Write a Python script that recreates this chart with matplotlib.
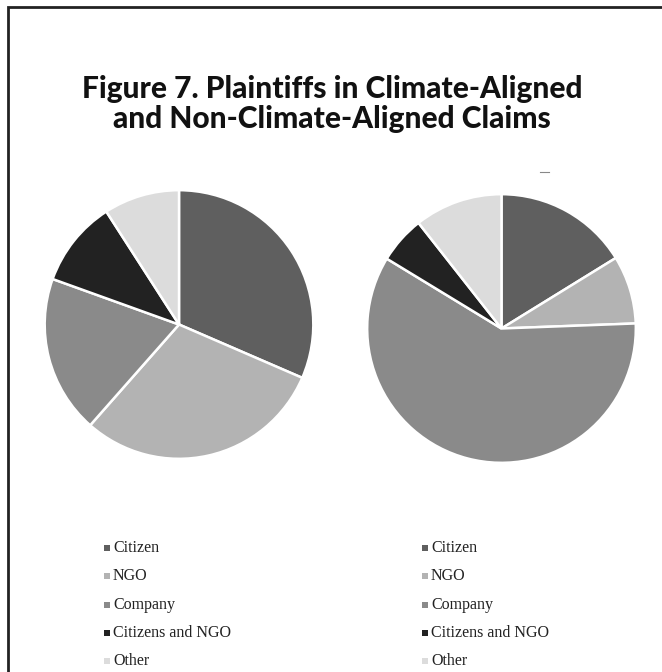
import matplotlib.pyplot as plt
from matplotlib.patches import Rectangle
from matplotlib.lines import Line2D

# plaintiff categories and shares (%)
labels = ['Citizen', 'NGO', 'Company', 'Citizens and NGO', 'Other']
colors = ['#5f5f5f', '#b3b3b3', '#8a8a8a', '#222222', '#dcdcdc']
climate_aligned = [31.5, 30.0, 19.0, 10.4, 9.1]
non_climate_aligned = [16.2, 8.2, 59.3, 5.7, 10.6]

W, H = 662, 672
fig = plt.figure(figsize=(W / 100, H / 100), dpi=100)
fig.patch.set_facecolor('white')

def px_box(cx, cy, r):
    # axes rectangle in figure fractions from pixel centre / radius
    return [(cx - r) / W, 1 - (cy + r) / H, 2 * r / W, 2 * r / H]

def draw_pie(vals, cx, cy, r):
    ax = fig.add_axes(px_box(cx, cy, r))
    ax.pie(vals, colors=colors, startangle=90, counterclock=False,
           wedgeprops=dict(edgecolor='white', linewidth=1.8), radius=1)
    ax.set_xlim(-1.02, 1.02)
    ax.set_ylim(-1.02, 1.02)
    ax.set_aspect('equal')
    ax.axis('off')
    return ax

draw_pie(climate_aligned, 179, 324.5, 137)
draw_pie(non_climate_aligned, 501.5, 328.5, 137)

# legends, one per pie
def draw_legend(x0, y0, dy):
    for i, (lab, col) in enumerate(zip(labels, colors)):
        y = y0 + i * dy
        fig.patches.append(Rectangle((x0 / W, 1 - (y + 3) / H), 6 / W, 6 / H,
                                     transform=fig.transFigure, facecolor=col,
                                     edgecolor='none'))
        fig.text((x0 + 9) / W, 1 - y / H, lab, fontsize=11.5,
                 family='Liberation Serif', va='center', ha='left', color='#222222')

draw_legend(104, 548, 28.3)
draw_legend(422, 548, 28.3)

# title
fig.text(332 / W, 1 - 104 / H,
         'Figure 7. Plaintiffs in Climate-Aligned\nand Non-Climate-Aligned Claims',
         ha='center', va='center', fontsize=21.5, fontweight='black',
         family='Lato', linespacing=1.12, color='#111111')

# stray dash at top right of second pie
fig.lines.append(Line2D([540 / W, 549 / W], [1 - 172 / H, 1 - 172 / H],
                        transform=fig.transFigure, color='#888888', linewidth=0.8))

# frame (right and bottom edges cropped off)
fig.patches.append(Rectangle((8 / W, -0.05), 1.1, 1 - 7 / H + 0.05,
                             transform=fig.transFigure, facecolor='none',
                             edgecolor='#222222', linewidth=2))

fig.savefig('out.png', dpi=100)
